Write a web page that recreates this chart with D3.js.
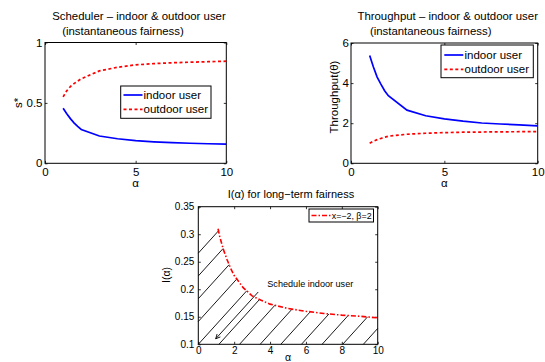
<!DOCTYPE html>
<html><head><meta charset="utf-8">
<script src="https://cdn.jsdelivr.net/npm/d3@7"></script>
<style>body{margin:0;background:#fff} text{font-family:"Liberation Sans",Arial,sans-serif;fill:#000}</style>
</head><body><svg id="c" width="545" height="362"></svg>
<script>
// ---- data ----
const alphaGrid = [1,1.2,1.4,1.6,1.8,2,3,4,5,6,7,8,9,10];
const sIndoor  = [0.455,0.41,0.37,0.335,0.305,0.28,0.226,0.203,0.188,0.178,0.171,0.166,0.162,0.158];
const sOutdoor = [0.55,0.60,0.635,0.66,0.68,0.70,0.765,0.795,0.815,0.825,0.832,0.837,0.841,0.845];
const thrIndoor  = [5.38,4.8,4.3,3.95,3.62,3.37,2.65,2.37,2.22,2.10,2.01,1.96,1.92,1.87];
const thrOutdoor = [1.0,1.1,1.18,1.24,1.30,1.35,1.45,1.50,1.53,1.55,1.56,1.57,1.575,1.58];
const alphaI = [1.1,1.2,1.4,1.6,1.8,2,2.5,3,3.5,4,5,6,7,8,9,10];
const Ivals  = [0.31,0.295,0.272,0.254,0.238,0.225,0.203,0.188,0.180,0.173,0.165,0.160,0.156,0.153,0.151,0.148];
const hatchStarts = [-4.6,-3.45,-2.3,-1.15,0,1.15,2.3,3.45,4.6,5.75,6.9,8.05,9.2]; // α where each hatch line meets I=0.1
const hatchSlope = 0.036; // ΔI per unit α
const arrowFrom = [3.34,0.195], arrowTo = [0.97,0.11];
const ticks1x=[0,5,10], ticks1y=[0,0.5,1];
const ticks2x=[0,5,10], ticks2y=[0,2,4,6];
const ticks3x=[0,2,4,6,8,10], ticks3y=[0.1,0.15,0.2,0.25,0.3,0.35];
const legend12 = ["indoor user","outdoor user"];
const legend3 = ["x=\u22122, \u03b2=2"];

const FONT = '"Liberation Sans",Arial,sans-serif';
const svg = d3.select("#c");

function panel(o){
  const g = svg.append("g");
  const x = d3.scaleLinear().domain(o.xDom).range([o.l,o.r]);
  const y = d3.scaleLinear().domain(o.yDom).range([o.b,o.t]);
  const ax = (gen, tr, labels) => {
    const a = g.append("g").attr("transform",tr).call(gen);
    a.attr("font-family",FONT).attr("font-size",o.fs);
    a.select(".domain").remove();
    a.selectAll("line").attr("stroke","#000").attr("stroke-width",0.8);
    if(!labels) a.selectAll("text").remove(); else a.selectAll("text").attr("fill","#000");
    return a;
  };
  const fmt = d=>String(d);
  ax(d3.axisBottom(x).tickValues(o.xTicks).tickSize(-o.tl).tickPadding(o.xpad).tickFormat(fmt),`translate(0,${o.b})`,true);
  ax(d3.axisTop(x).tickValues(o.xTicks).tickSize(-o.tl).tickFormat(fmt),`translate(0,${o.t})`,false);
  ax(d3.axisLeft(y).tickValues(o.yTicks).tickSize(-o.tl).tickPadding(o.ypad).tickFormat(fmt),`translate(${o.l},0)`,true);
  ax(d3.axisRight(y).tickValues(o.yTicks).tickSize(-o.tl).tickFormat(fmt),`translate(${o.r},0)`,false);
  g.append("rect").attr("x",o.l).attr("y",o.t).attr("width",o.r-o.l).attr("height",o.b-o.t)
    .attr("fill","none").attr("stroke","#000").attr("stroke-width",1);
  return {g,x,y};
}
const line = (x,y)=>d3.line().x(d=>x(d[0])).y(d=>y(d[1]));

// ---- Panel 1 ----
{
  const p = panel({l:45,r:226.3,t:42.5,b:163.3,xDom:[0,10],yDom:[0,1],xTicks:ticks1x,yTicks:ticks1y,fs:11.5,tl:2.5,xpad:5,ypad:2.5});
  p.g.append("path").datum(alphaGrid.map((a,i)=>[a,sOutdoor[i]])).attr("d",line(p.x,p.y))
    .attr("fill","none").attr("stroke","#f00").attr("stroke-width",1.7).attr("stroke-dasharray","3,2.5");
  p.g.append("path").datum(alphaGrid.map((a,i)=>[a,sIndoor[i]])).attr("d",line(p.x,p.y))
    .attr("fill","none").attr("stroke","#00f").attr("stroke-width",1.7);
  p.g.append("text").attr("x",139).attr("y",20).attr("text-anchor","middle").attr("font-size",11.4).text("Scheduler \u2013 indoor & outdoor user");
  p.g.append("text").attr("x",123).attr("y",35).attr("text-anchor","middle").attr("font-size",11.4).text("(instantaneous fairness)");
  p.g.append("text").attr("transform","translate(21.5,103) rotate(-90)").attr("text-anchor","middle").attr("font-size",11.5).text("s*");
  p.g.append("text").attr("x",135.6).attr("y",187).attr("text-anchor","middle").attr("font-size",11.5).text("\u03b1");
  const L = p.g.append("g");
  L.append("rect").attr("x",120.7).attr("y",86).attr("width",90.3).attr("height",32.3).attr("fill","#fff").attr("stroke","#000").attr("stroke-width",1);
  legend12.forEach((t,i)=>{
    const yy = 95+i*14.3;
    L.append("line").attr("x1",123.5).attr("x2",142.5).attr("y1",yy).attr("y2",yy)
      .attr("stroke",i?"#f00":"#00f").attr("stroke-width",1.7).attr("stroke-dasharray",i?"3,2.5":null);
    L.append("text").attr("x",143.5).attr("y",yy+4).attr("font-size",11.5).text(t);
  });
}
// ---- Panel 2 ----
{
  const p = panel({l:351,r:537.7,t:43,b:163.3,xDom:[0,10],yDom:[0,6],xTicks:ticks2x,yTicks:ticks2y,fs:11.5,tl:2.5,xpad:5,ypad:2});
  p.g.append("path").datum(alphaGrid.map((a,i)=>[a,thrOutdoor[i]])).attr("d",line(p.x,p.y))
    .attr("fill","none").attr("stroke","#f00").attr("stroke-width",1.7).attr("stroke-dasharray","3,2.5");
  p.g.append("path").datum(alphaGrid.map((a,i)=>[a,thrIndoor[i]])).attr("d",line(p.x,p.y))
    .attr("fill","none").attr("stroke","#00f").attr("stroke-width",1.7);
  p.g.append("text").attr("x",447.7).attr("y",20).attr("text-anchor","middle").attr("font-size",11.4).text("Throughput \u2013 indoor & outdoor user");
  p.g.append("text").attr("x",430.7).attr("y",35).attr("text-anchor","middle").attr("font-size",11.4).text("(instantaneous fairness)");
  p.g.append("text").attr("transform","translate(337.5,97) rotate(-90)").attr("text-anchor","middle").attr("font-size",11.5).text("Throughput(\u03b8)");
  p.g.append("text").attr("x",444.3).attr("y",187).attr("text-anchor","middle").attr("font-size",11.5).text("\u03b1");
  const L = p.g.append("g");
  L.append("rect").attr("x",441).attr("y",45).attr("width",92.3).attr("height",32.7).attr("fill","#fff").attr("stroke","#000").attr("stroke-width",1);
  legend12.forEach((t,i)=>{
    const yy = 55+i*14.3;
    L.append("line").attr("x1",444.3).attr("x2",463.3).attr("y1",yy).attr("y2",yy)
      .attr("stroke",i?"#f00":"#00f").attr("stroke-width",1.7).attr("stroke-dasharray",i?"3,2.5":null);
    L.append("text").attr("x",464.5).attr("y",yy+4).attr("font-size",11.5).text(t);
  });
}
// ---- Panel 3 ----
{
  const p = panel({l:198.3,r:377.7,t:206.7,b:344.3,xDom:[0,10],yDom:[0.1,0.35],xTicks:ticks3x,yTicks:ticks3y,fs:10,tl:2.5,xpad:2.5,ypad:4});
  const curve = alphaI.map((a,i)=>[a,Ivals[i]]);
  const interp = a => { for(let i=0;i<alphaI.length-1;i++){ if(a>=alphaI[i]&&a<=alphaI[i+1]){const t=(a-alphaI[i])/(alphaI[i+1]-alphaI[i]);return Ivals[i]+t*(Ivals[i+1]-Ivals[i]);} } return null; };
  const y0 = p.y.domain()[0];
  hatchStarts.forEach(c=>{
    const f = a => y0 + hatchSlope*(a-c);
    const a0 = Math.max(0,c);
    let aEnd = 10;
    const N = 2000;
    for(let k=0;k<=N;k++){
      const a = a0 + (10-a0)*k/N;
      const cv = interp(a);
      if(cv!==null && f(a)>=cv){ aEnd=a; break; }
    }
    p.g.append("line").attr("x1",p.x(a0)).attr("y1",p.y(f(a0))).attr("x2",p.x(aEnd)).attr("y2",p.y(f(aEnd)))
      .attr("stroke","#000").attr("stroke-width",0.9);
  });
  p.g.append("path").datum(curve).attr("d",line(p.x,p.y)).attr("fill","none")
    .attr("stroke","#f00").attr("stroke-width",1.6).attr("stroke-dasharray","5,2,1.5,2");
  const ax1=p.x(arrowFrom[0]), ay1=p.y(arrowFrom[1]), ax2=p.x(arrowTo[0]), ay2=p.y(arrowTo[1]);
  p.g.append("line").attr("x1",ax1).attr("y1",ay1).attr("x2",ax2).attr("y2",ay2).attr("stroke","#000").attr("stroke-width",0.9);
  const ang = Math.atan2(ay1-ay2, ax1-ax2), hl=5, hw=0.45;
  p.g.append("path").attr("d",`M${ax2+hl*Math.cos(ang+hw)},${ay2+hl*Math.sin(ang+hw)}L${ax2},${ay2}L${ax2+hl*Math.cos(ang-hw)},${ay2+hl*Math.sin(ang-hw)}`)
    .attr("fill","none").attr("stroke","#000").attr("stroke-width",0.9);
  p.g.append("text").attr("x",267.3).attr("y",286.5).attr("font-size",9.1).text("Schedule indoor user");
  p.g.append("text").attr("x",291).attr("y",198.3).attr("text-anchor","middle").attr("font-size",11).text("I(\u03b1) for long\u2212term fairness");
  p.g.append("text").attr("transform","translate(169.5,275) rotate(-90)").attr("text-anchor","middle").attr("font-size",10.5).text("I(\u03b1)");
  p.g.append("text").attr("x",288).attr("y",361).attr("text-anchor","middle").attr("font-size",10.5).text("\u03b1");
  const L = p.g.append("g");
  L.append("rect").attr("x",309).attr("y",209).attr("width",64.5).attr("height",13).attr("fill","#fff").attr("stroke","#000").attr("stroke-width",1);
  L.append("line").attr("x1",311.5).attr("x2",331).attr("y1",215.5).attr("y2",215.5).attr("stroke","#f00").attr("stroke-width",1.6).attr("stroke-dasharray","5,2,1.5,2");
  L.append("text").attr("x",331.7).attr("y",218.8).attr("font-size",8.9).text(legend3[0]);
}
</script></body></html>
